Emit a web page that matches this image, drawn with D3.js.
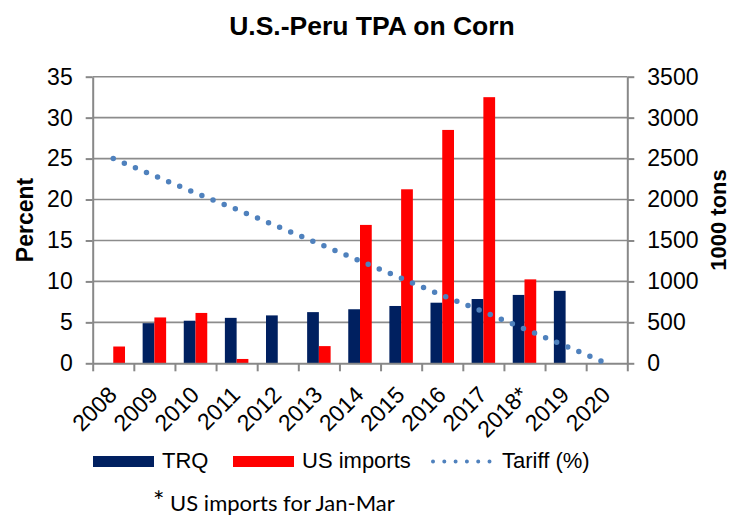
<!DOCTYPE html>
<html>
<head>
<meta charset="utf-8">
<script src="https://cdn.jsdelivr.net/npm/d3@7"></script>
<style>
  body { margin: 0; background: #fff; }
  svg { display: block; font-family: Arial, "Liberation Sans", sans-serif; }
  .axis path, .axis line { stroke: #888; stroke-width: 2; }
  .axis text { fill: #000; font-size: 23px; font-family: Arial, "Liberation Sans", sans-serif; }
  .grid line { stroke: #8c8c8c; stroke-width: 1.6; }
</style>
</head>
<body>
<div class="chart-container"></div>
<script>
// datos
const years = ["2008", "2009", "2010", "2011", "2012", "2013", "2014", "2015", "2016", "2017", "2018*", "2019", "2020"]
const trq = [null, 490, 520, 555, 585, 625, 660, 700, 740, 785, 835, 885, null]
const usImports = [205, 560, 615, 53, null, 210, 1690, 2125, 2850, 3250, 1025, null, null]
const tariff = [25, 22.9, 20.8, 18.8, 16.7, 14.6, 12.5, 10.4, 8.3, 6.3, 4.2, 2.1, 0]
const percentTicks = [0, 5, 10, 15, 20, 25, 30, 35]
const tonsTicks = [0, 500, 1000, 1500, 2000, 2500, 3000, 3500]

const WIDTH = 732
const HEIGHT = 518
const plot = { left: 92.7, right: 627.3, top: 76.7, bottom: 363.3 }

const colors = { trq: "#002060", imports: "#ff0000", tariff: "#4f81bd" }

const svg = d3
  .select(".chart-container")
  .append("svg")
  .attr("width", WIDTH)
  .attr("height", HEIGHT)

// escalas
const xScale = d3.scaleBand().domain(years).range([plot.left, plot.right]).padding(0)
const xEdges = d3.scaleLinear().domain([0, years.length]).range([plot.left, plot.right])
const xSeries = d3.scaleBand().domain(["trq", "imports"]).range([0, xScale.bandwidth()]).paddingInner(0).paddingOuter(0.75)
const yLeft = d3.scaleLinear().domain([0, 35]).range([plot.bottom, plot.top])
const yRight = d3.scaleLinear().domain([0, 3500]).range([plot.bottom, plot.top])

// titulo
svg.append("text")
  .attr("x", 372)
  .attr("y", 35)
  .attr("text-anchor", "middle")
  .style("font-size", "26.5px")
  .style("font-weight", "bold")
  .text("U.S.-Peru TPA on Corn")

// grilla
svg.append("g")
  .attr("class", "grid")
  .selectAll("line")
  .data(percentTicks.slice(1))
  .join("line")
  .attr("x1", plot.left)
  .attr("x2", plot.right)
  .attr("y1", d => yLeft(d))
  .attr("y2", d => yLeft(d))

// barras
const barData = []
years.forEach((y, i) => {
  barData.push({ year: y, key: "trq", value: trq[i] })
  barData.push({ year: y, key: "imports", value: usImports[i] })
})

svg.append("g")
  .selectAll("rect")
  .data(barData.filter(d => d.value != null))
  .join("rect")
  .attr("x", d => xScale(d.year) + xSeries(d.key))
  .attr("width", xSeries.bandwidth())
  .attr("y", d => yRight(d.value))
  .attr("height", d => yRight(0) - yRight(d.value))
  .attr("fill", d => colors[d.key])

// ejes
const yAxisLeft = svg.append("g")
  .attr("class", "axis")
  .attr("transform", `translate(${plot.left}, 0)`)
  .call(d3.axisLeft(yLeft).tickValues(percentTicks).tickSize(7).tickSizeOuter(0).tickPadding(13))

const yAxisRight = svg.append("g")
  .attr("class", "axis")
  .attr("transform", `translate(${plot.right}, 0)`)
  .call(d3.axisRight(yRight).tickValues(tonsTicks).tickFormat(d3.format("d")).tickSize(7).tickSizeOuter(0).tickPadding(13))

const xAxis = svg.append("g")
  .attr("class", "axis")
  .attr("transform", `translate(0, ${plot.bottom})`)
  .call(d3.axisBottom(xEdges).tickValues(d3.range(years.length + 1)).tickFormat("").tickSize(8).tickSizeOuter(0))

// etiquetas eje x
svg.append("g")
  .selectAll("text")
  .data(years)
  .join("text")
  .attr("transform", d => `translate(${xScale(d) + xScale.bandwidth() / 2 + 5}, ${plot.bottom + 33}) rotate(-45)`)
  .attr("text-anchor", "end")
  .style("font-size", "23px")
  .text(d => d)

// linea de arancel
const lineGenerator = d3.line()
  .x((d, i) => xScale(years[i]) + xScale.bandwidth() / 2)
  .y(d => yLeft(d))

svg.append("path")
  .datum(tariff)
  .attr("d", lineGenerator)
  .attr("fill", "none")
  .attr("stroke", colors.tariff)
  .attr("stroke-width", 5.5)
  .attr("stroke-linecap", "round")
  .attr("stroke-dasharray", "0 12")

// titulos de ejes
svg.append("text")
  .attr("transform", `translate(33, ${(plot.top + plot.bottom) / 2}) rotate(-90)`)
  .attr("text-anchor", "middle")
  .style("font-size", "23px")
  .style("font-weight", "bold")
  .text("Percent")

svg.append("text")
  .attr("transform", `translate(726, ${(plot.top + plot.bottom) / 2}) rotate(-90)`)
  .attr("text-anchor", "middle")
  .style("font-size", "22px")
  .style("font-weight", "bold")
  .text("1000 tons")

// leyenda
const legend = svg.append("g").attr("transform", "translate(0, 468)")
const legendItems = [
  { name: "TRQ", type: "bar", color: colors.trq, x: 93 },
  { name: "US imports", type: "bar", color: colors.imports, x: 233 },
  { name: "Tariff (%)", type: "line", color: colors.tariff, x: 432 },
]

legendItems.forEach(d => {
  if (d.type == "bar") {
    legend.append("rect")
      .attr("x", d.x)
      .attr("y", -12)
      .attr("width", 61)
      .attr("height", 11)
      .attr("fill", d.color)
  } else {
    legend.append("line")
      .attr("x1", d.x + 1)
      .attr("x2", d.x + 58)
      .attr("y1", -6.5)
      .attr("y2", -6.5)
      .attr("stroke", d.color)
      .attr("stroke-width", 4)
      .attr("stroke-linecap", "round")
      .attr("stroke-dasharray", "0 11.3")
  }
  legend.append("text")
    .attr("x", d.x + (d.type == "bar" ? 69 : 70))
    .attr("y", 0)
    .style("font-size", "22px")
    .text(d.name)
})

// nota
const note = svg.append("text")
  .attr("x", 153)
  .attr("y", 511)
  .style("font-family", "Lato, 'Noto Sans', sans-serif")
  .style("font-size", "22px")
note.append("tspan").style("font-size", "27px").text("*")
note.append("tspan").text(" US imports for Jan-Mar")
</script>
</body>
</html>
